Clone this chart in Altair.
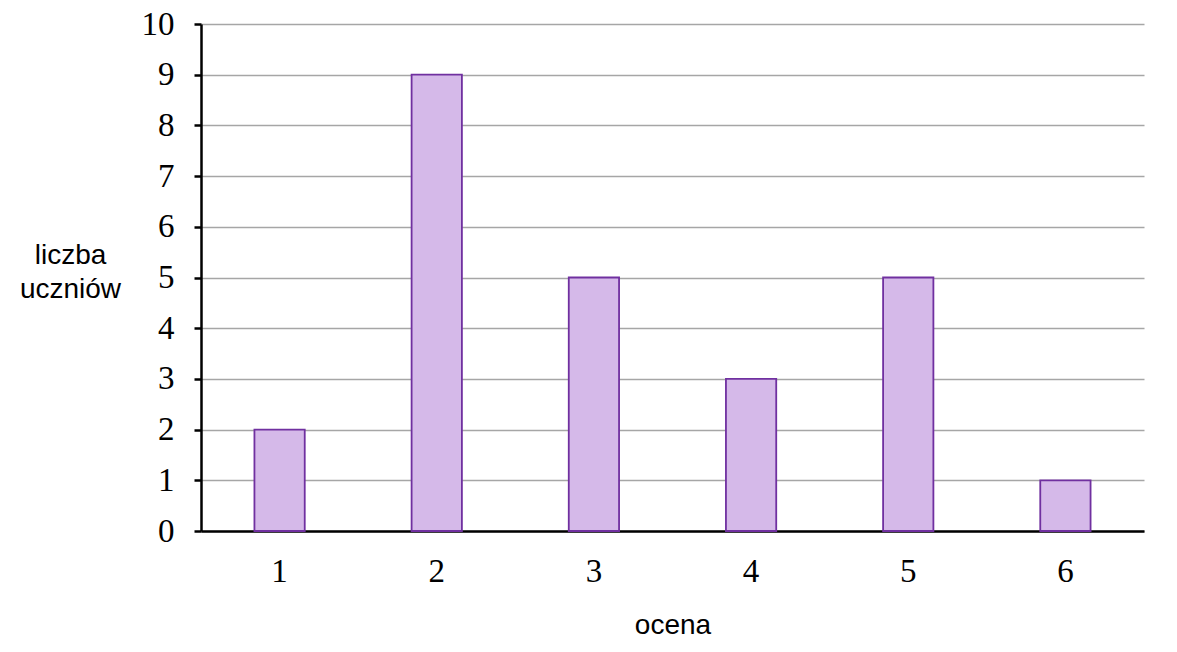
import altair as alt
import pandas as pd

grades = ["1", "2", "3", "4", "5", "6"]
counts = [2, 9, 5, 3, 5, 1]

df = pd.DataFrame({"ocena": grades, "liczba": counts})

chart = alt.Chart(df).mark_bar(
    fill="#d5b9e9", stroke="#7030a0", strokeWidth=1.8
).encode(
    x=alt.X("ocena:O", sort=grades,
            scale=alt.Scale(paddingInner=0.68, paddingOuter=0.34),
            axis=alt.Axis(title="ocena", labelAngle=0, ticks=False,
                          domainColor="black", domainWidth=2.5,
                          labelFont="Liberation Serif", labelFontSize=33,
                          labelColor="black", labelPadding=24,
                          titleFont="Liberation Sans", titleFontSize=28,
                          titleFontWeight="normal", titleColor="black",
                          titlePadding=23)),
    y=alt.Y("liczba:Q",
            scale=alt.Scale(domain=[0, 10], nice=False),
            axis=alt.Axis(title=["liczba", "uczniów"], values=list(range(11)),
                          labelOverlap=False,
                          grid=True, gridColor="#a6a6a6", gridWidth=1.5,
                          domainColor="black", domainWidth=2.5,
                          tickColor="black", tickWidth=2.5, tickSize=7,
                          labelFont="Liberation Serif", labelFontSize=33,
                          labelColor="black", labelPadding=20,
                          titleFont="Liberation Sans", titleFontSize=28,
                          titleFontWeight="normal", titleColor="black",
                          titleAngle=0, titleAlign="center", titleBaseline="middle",
                          titleX=-131, titleY=231, titleLineHeight=34)),
).properties(
    width=943, height=507,
    autosize=alt.AutoSizeParams(type="none"),
    padding={"left": 193, "top": 16, "right": 20, "bottom": 120},
).configure_view(stroke=None)

chart.save("out.html", embed_options={"renderer": "svg", "actions": False})
